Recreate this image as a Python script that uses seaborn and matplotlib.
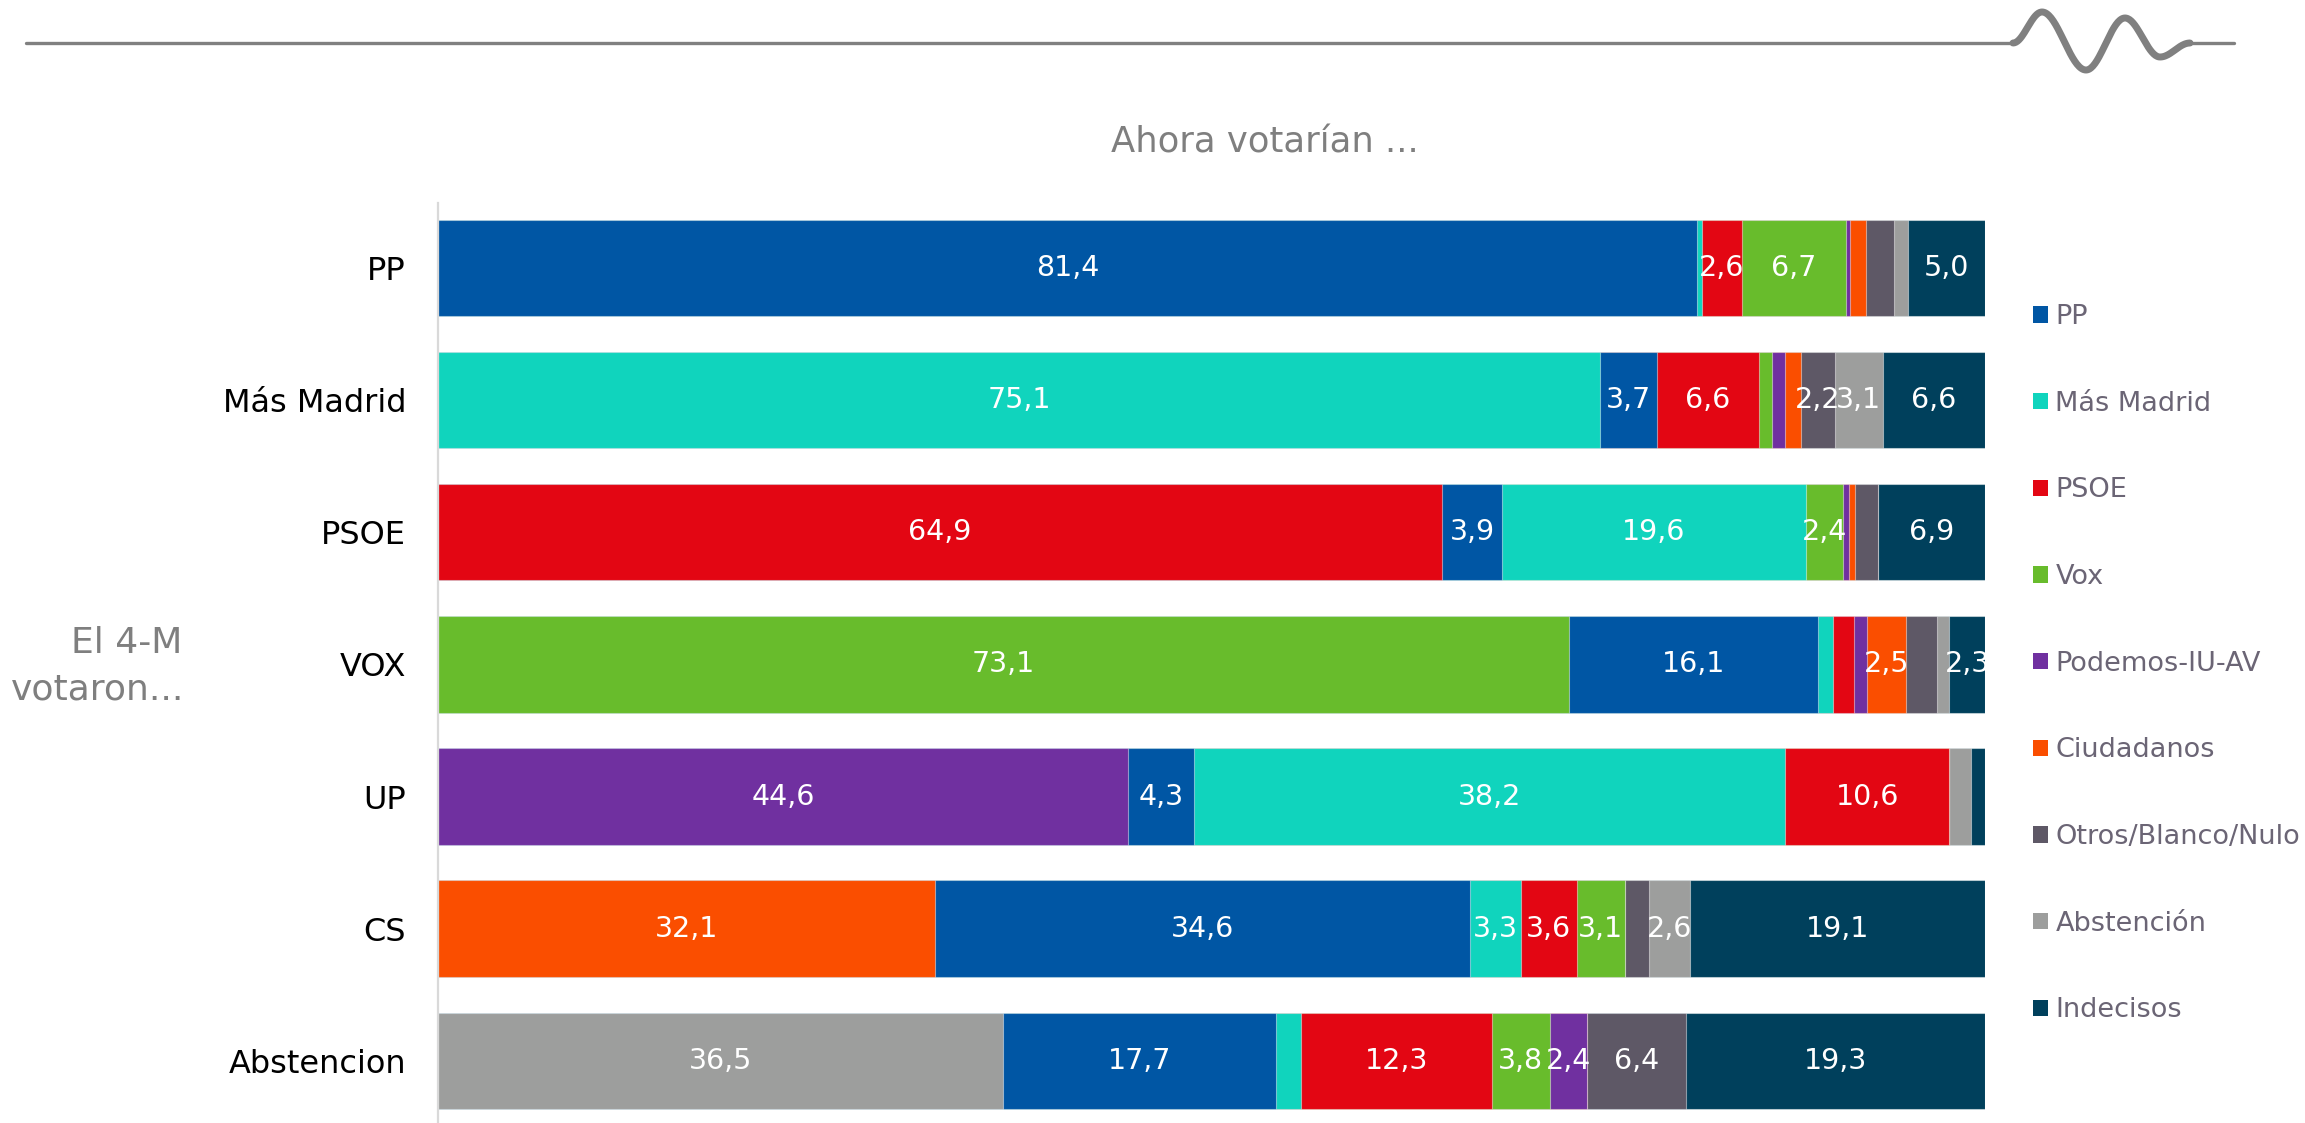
import numpy as np
import pandas as pd
import matplotlib
matplotlib.use("Agg")
import matplotlib.pyplot as plt
from matplotlib.patches import Patch
from matplotlib.lines import Line2D
import seaborn as sns

# ---------------- data ----------------
rows = ["PP", "Más Madrid", "PSOE", "VOX", "UP", "CS", "Abstencion"]
series_names = ["PP", "Más Madrid", "PSOE", "Vox", "Podemos-IU-AV",
                "Ciudadanos", "Otros/Blanco/Nulo", "Abstención", "Indecisos"]

# values per series, one per row (PP, Más Madrid, PSOE, VOX, UP, CS, Abstencion)
v_pp         = [81.4, 3.7, 3.9, 16.1, 4.3, 34.6, 17.7]
v_masmadrid  = [0.3, 75.1, 19.6, 1.0, 38.2, 3.3, 1.6]
v_psoe       = [2.6, 6.6, 64.9, 1.3, 10.6, 3.6, 12.3]
v_vox        = [6.7, 0.8, 2.4, 73.1, 0.0, 3.1, 3.8]
v_podemos    = [0.3, 0.9, 0.4, 0.9, 44.6, 0.0, 2.4]
v_cs         = [1.0, 1.0, 0.4, 2.5, 0.0, 32.1, 0.0]
v_otros      = [1.8, 2.2, 1.5, 2.0, 0.0, 1.6, 6.4]
v_abstencion = [0.9, 3.1, 0.0, 0.8, 1.4, 2.6, 36.5]
v_indecisos  = [5.0, 6.6, 6.9, 2.3, 0.9, 19.1, 19.3]

# which series is each row's "own" (drawn first)
own_series = [0, 1, 2, 3, 4, 5, 7]

colors = ["#0056A4", "#10D4BD", "#E30613", "#68BC2C", "#7030A0",
          "#FA4E00", "#5E5866", "#9D9E9D", "#00405C"]

# ---------------- build table ----------------
M = np.array([v_pp, v_masmadrid, v_psoe, v_vox, v_podemos, v_cs,
              v_otros, v_abstencion, v_indecisos]).T   # rows x series
n_rows, n_ser = M.shape
orders = [[own] + [j for j in range(n_ser) if j != own] for own in own_series]

seg_val = np.array([[M[i, orders[i][k]] for k in range(n_ser)] for i in range(n_rows)])
seg_col = [[colors[orders[i][k]] for k in range(n_ser)] for i in range(n_rows)]
seg_end = np.cumsum(seg_val, axis=1)

# ---------------- figure ----------------
sns.set_style("white")
plt.rcParams['font.family'] = ['DejaVu Sans']

fig = plt.figure(figsize=(23.05, 11.23), dpi=100)
ax = fig.add_axes([438 / 2305, 0.0, (1985 - 438) / 2305, 1 - 203 / 1123])

for k in reversed(range(n_ser)):
    df = pd.DataFrame({"row": rows, "end": seg_end[:, k]})
    pal = {rows[i]: seg_col[i][k] for i in range(n_rows)}
    sns.barplot(data=df, x="end", y="row", hue="row", palette=pal,
                order=rows, hue_order=rows, orient="h", width=0.73,
                dodge=False, legend=False, errorbar=None, saturation=1,
                edgecolor=(1, 1, 1, 0.45), linewidth=0.8, ax=ax)

# value labels
for i in range(n_rows):
    for k in range(n_ser):
        v = seg_val[i, k]
        if v >= 2.2:
            xc = seg_end[i, k] - v / 2
            ax.text(xc, i, f"{v:.1f}".replace(".", ","), ha="center", va="center",
                    color="white", fontsize=20.5)

ax.set_xlim(0, 100)
ax.set_ylim(6.47, -0.49)
ax.set_xticks([])
ax.set_xlabel("")
ax.set_ylabel("")
ax.tick_params(axis="y", length=0, pad=23, labelsize=23, labelcolor="black")
for s in ["top", "right", "bottom"]:
    ax.spines[s].set_visible(False)
ax.spines["left"].set_color("#D9D9D9")
ax.spines["left"].set_linewidth(1.6)

# title and left annotation
fig.text(1265 / 2305, 1 - 143 / 1123, "Ahora votarían ...", ha="center", va="center",
         fontsize=25.5, color="#7F7F7F")
fig.text(182 / 2305, 1 - 643 / 1123, "El 4-M", ha="right", va="center",
         fontsize=26, color="#7F7F7F")
fig.text(184 / 2305, 1 - 689 / 1123, "votaron...", ha="right", va="center",
         fontsize=26, color="#7F7F7F")

# legend
handles = [Patch(facecolor=c, edgecolor="none") for c in colors]
fig.legend(handles, series_names, loc="upper left",
           bbox_to_anchor=(2033 / 2305, 1 - 304 / 1123), frameon=False,
           fontsize=19.5, labelcolor="#6B6575", handlelength=0.55, handleheight=0.55,
           handletextpad=0.28, labelspacing=2.24, borderpad=0, borderaxespad=0)

# top decorative line with wave
W, H = 2305, 1123
gray = "#808080"
fig.add_artist(Line2D([26 / W, 2013 / W], [1 - 43 / H, 1 - 43 / H],
                      color=gray, linewidth=2.4, transform=fig.transFigure))
fig.add_artist(Line2D([2190 / W, 2234 / W], [1 - 43 / H, 1 - 43 / H],
                      color=gray, linewidth=2.4, transform=fig.transFigure,
                      solid_capstyle="round"))
kx = [2013, 2042, 2086, 2125, 2160, 2190]
ky = [43, 12, 70, 18, 57, 43]
wx, wy = [], []
for a in range(len(kx) - 1):
    t = np.linspace(0, 1, 40)
    e = (1 - np.cos(np.pi * t)) / 2
    wx.extend(kx[a] + (kx[a + 1] - kx[a]) * t)
    wy.extend(ky[a] + (ky[a + 1] - ky[a]) * e)
wx = np.array(wx) / W
wy = 1 - np.array(wy) / H
fig.add_artist(Line2D(wx, wy, color=gray, linewidth=5, transform=fig.transFigure,
                      solid_capstyle="round", solid_joinstyle="round"))

fig.savefig("out.png", dpi=100)
